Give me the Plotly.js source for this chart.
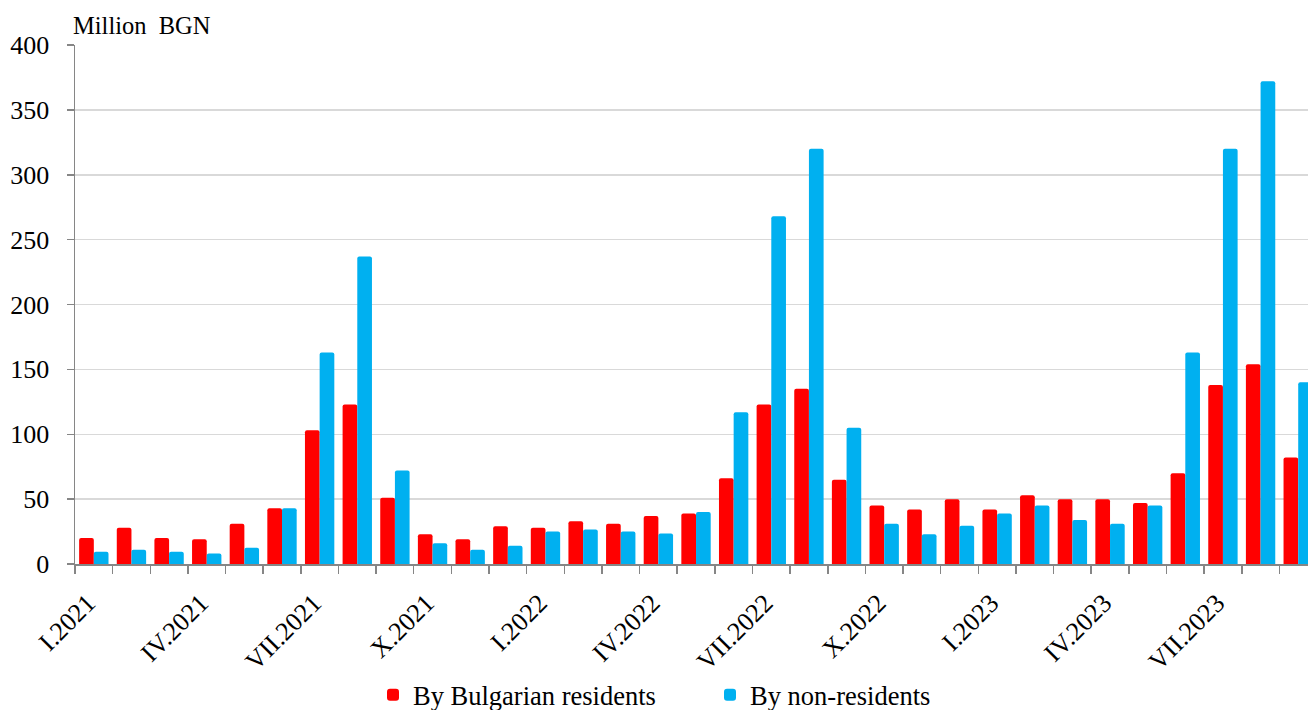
<!DOCTYPE html>
<html>
<head>
<meta charset="utf-8">
<script src="https://cdn.plot.ly/plotly-3.0.1.min.js"></script>
<style>html,body{margin:0;padding:0;background:#fff;}#chart{width:1308px;height:710px;}</style>
</head>
<body>
<div id="chart"></div>
<script>
const categories = [
  "I.2021","II.2021","III.2021","IV.2021","V.2021","VI.2021","VII.2021","VIII.2021","IX.2021","X.2021","XI.2021","XII.2021",
  "I.2022","II.2022","III.2022","IV.2022","V.2022","VI.2022","VII.2022","VIII.2022","IX.2022","X.2022","XI.2022","XII.2022",
  "I.2023","II.2023","III.2023","IV.2023","V.2023","VI.2023","VII.2023","VIII.2023","IX.2023"
];
const residents = [20,28,20,19,31,43,103,123,51,23,19,29,28,33,31,37,39,66,123,135,65,45,42,50,42,53,50,50,47,70,138,154,82];
const nonResidents = [9.5,11,9.5,8,12.5,43,163,237,72,16,11,14,25,26.5,25,23.5,40,117,268,320,105,31,23,29.5,39,45,34,31,45,163,320,372,140];
const shownLabels = ["I.2021","IV.2021","VII.2021","X.2021","I.2022","IV.2022","VII.2022","X.2022","I.2023","IV.2023","VII.2023"];
const yTicks = [0,50,100,150,200,250,300,350,400];

const font = "Liberation Serif, Times New Roman, serif";
const tickText = categories.map(c => shownLabels.includes(c) ? c : "");

const traces = [
  {type:"bar", name:"By Bulgarian residents", x:categories, y:residents,
   marker:{color:"#FF0000", cornerradius:2}, hoverinfo:"x+y"},
  {type:"bar", name:"By non-residents", x:categories, y:nonResidents,
   marker:{color:"#00B0F0", cornerradius:2}, hoverinfo:"x+y"}
];

const layout = {
  width:1308, height:710,
  margin:{l:75, r:0, t:45, b:146},
  paper_bgcolor:"#ffffff", plot_bgcolor:"#ffffff",
  barmode:"group", bargap:0.22, bargroupgap:0,
  font:{family:font, color:"#000000", size:26},
  showlegend:true,
  legend:{orientation:"h", xref:"container", yref:"container", x:373/1308, xanchor:"left", y:0.021, yanchor:"middle",
          entrywidth:292, entrywidthmode:"pixels",
          font:{family:font, size:26.5, color:"#000"}, tracegroupgap:0},
  xaxis:{type:"category", range:[-0.5, 32.26], tickmode:"array", tickvals:categories, ticktext:tickText,
         tickangle:-45, tickson:"boundaries", ticks:"outside", ticklen:8, tickwidth:1.5, tickcolor:"#868686",
         ticklabelstandoff:12, ticklabelshift:-6,
         showline:true, linecolor:"#868686", linewidth:1.5, showgrid:false, zeroline:false,
         tickfont:{family:font, size:26, color:"#000"}, fixedrange:true},
  yaxis:{range:[0,400], tickmode:"array", tickvals:yTicks, ticks:"outside", ticklen:7, tickwidth:1.5, tickcolor:"#868686",
         ticklabelstandoff:12,
         showline:true, linecolor:"#868686", linewidth:1.5, showgrid:true, gridcolor:"#D9D9D9", gridwidth:1.5,
         zeroline:false, tickfont:{family:font, size:26, color:"#000"}, fixedrange:true},
  annotations:[{text:"Million\u00a0 BGN", xref:"paper", yref:"paper", x:0, y:1, xanchor:"left", yanchor:"middle",
                yshift:20, xshift:-4, showarrow:false, font:{family:font, size:24.5, color:"#000"}}]
};

Plotly.newPlot("chart", traces, layout, {displayModeBar:false, staticPlot:true});
</script>
</body>
</html>
